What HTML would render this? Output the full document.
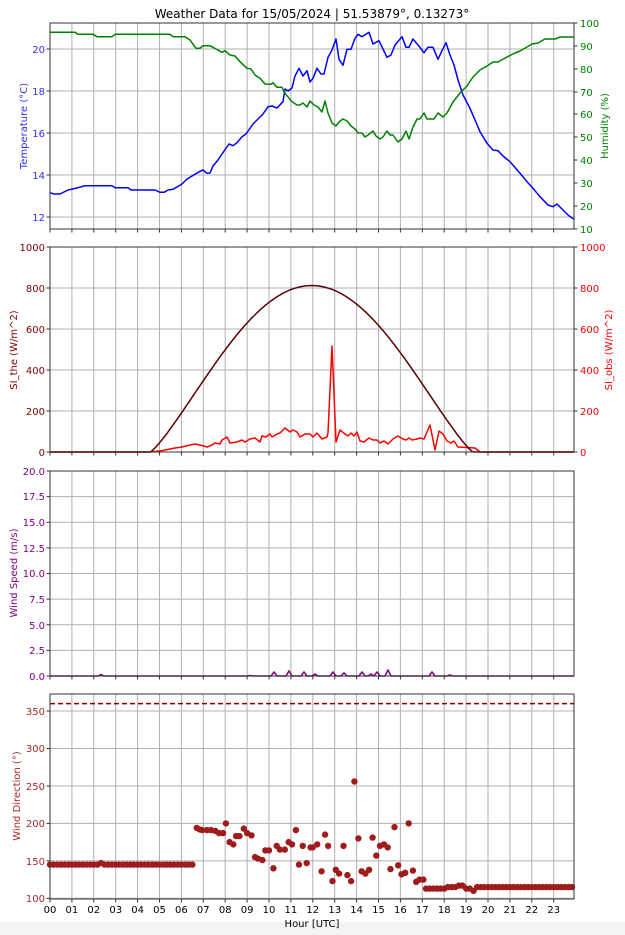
<!DOCTYPE html>
<html><head><meta charset="utf-8"><style>
html,body{margin:0;padding:0;background:#fff;}
svg{display:block;font-family:"DejaVu Sans","Liberation Sans",sans-serif;}
</style></head><body>
<svg id="s" width="625" height="935" viewBox="0 0 625 935" xmlns="http://www.w3.org/2000/svg">
<rect x="0" y="0" width="625" height="935" fill="#fff"/>
<rect x="0" y="922" width="625" height="13" fill="#f4f4f4"/>
<g id="grid"></g>
<g id="data"></g>
<g id="frames" fill="none" stroke="#333" stroke-width="1">
<rect x="50" y="23" width="524" height="206"/>
<rect x="50" y="247" width="524" height="205"/>
<rect x="50" y="471" width="524" height="205"/>
<rect x="50" y="694" width="524" height="205"/>
</g>
<g id="ticks" stroke="#333" stroke-width="1"></g>
<text x="312" y="18" font-size="12" text-anchor="middle" fill="#000">Weather Data for 15/05/2024 | 51.53879°, 0.13273°</text>

<g font-size="10" text-anchor="end" fill="#3030ff">
<text x="45" y="221">12</text><text x="45" y="179">14</text><text x="45" y="137">16</text><text x="45" y="95">18</text><text x="45" y="53">20</text>
</g>
<g font-size="10" text-anchor="start" fill="#008000">
<text x="580" y="233">10</text><text x="580" y="210">20</text><text x="580" y="187">30</text><text x="580" y="164">40</text><text x="580" y="141">50</text><text x="580" y="118">60</text><text x="580" y="96">70</text><text x="580" y="73">80</text><text x="580" y="50">90</text><text x="580" y="27">100</text>
</g>
<text transform="translate(27,126) rotate(-90)" font-size="10" text-anchor="middle" fill="#3030ff">Temperature (°C)</text>
<text transform="translate(608,126) rotate(-90)" font-size="10" text-anchor="middle" fill="#008000">Humidity (%)</text>

<g font-size="10" text-anchor="end" fill="#800000">
<text x="45" y="456">0</text><text x="45" y="415">200</text><text x="45" y="374">400</text><text x="45" y="333">600</text><text x="45" y="292">800</text><text x="45" y="251">1000</text>
</g>
<g font-size="10" text-anchor="start" fill="#ff0000">
<text x="580" y="456">0</text><text x="580" y="415">200</text><text x="580" y="374">400</text><text x="580" y="333">600</text><text x="580" y="292">800</text><text x="580" y="251">1000</text>
</g>
<text transform="translate(17,350) rotate(-90)" font-size="10" text-anchor="middle" fill="#800000">SI_the (W/m^2)</text>
<text transform="translate(612,350) rotate(-90)" font-size="10" text-anchor="middle" fill="#ff0000">SI_obs (W/m^2)</text>

<g font-size="10" text-anchor="end" fill="#800080">
<text x="45" y="680">0.0</text><text x="45" y="654">2.5</text><text x="45" y="629">5.0</text><text x="45" y="603">7.5</text><text x="45" y="577">10.0</text><text x="45" y="552">12.5</text><text x="45" y="526">15.0</text><text x="45" y="500">17.5</text><text x="45" y="475">20.0</text>
</g>
<text transform="translate(17,573) rotate(-90)" font-size="10" text-anchor="middle" fill="#800080">Wind Speed (m/s)</text>

<g font-size="10" text-anchor="end" fill="#a52a2a">
<text x="45" y="902">100</text><text x="45" y="865">150</text><text x="45" y="827">200</text><text x="45" y="790">250</text><text x="45" y="752">300</text><text x="45" y="715">350</text>
</g>
<text transform="translate(20,796) rotate(-90)" font-size="10" text-anchor="middle" fill="#a52a2a">Wind Direction (°)</text>

<g font-size="10" text-anchor="middle" fill="#000">
<text x="50" y="913">00</text><text x="71.9" y="913">01</text><text x="93.8" y="913">02</text><text x="115.7" y="913">03</text><text x="137.6" y="913">04</text><text x="159.5" y="913">05</text><text x="181.4" y="913">06</text><text x="203.3" y="913">07</text><text x="225.2" y="913">08</text><text x="247.1" y="913">09</text><text x="269" y="913">10</text><text x="290.9" y="913">11</text><text x="312.8" y="913">12</text><text x="334.7" y="913">13</text><text x="356.6" y="913">14</text><text x="378.5" y="913">15</text><text x="400.4" y="913">16</text><text x="422.3" y="913">17</text><text x="444.2" y="913">18</text><text x="466.1" y="913">19</text><text x="488" y="913">20</text><text x="509.9" y="913">21</text><text x="531.8" y="913">22</text><text x="553.7" y="913">23</text>
</g>
<text x="312" y="927" font-size="10" text-anchor="middle" fill="#000">Hour [UTC]</text>
</svg>
<script>
(function(){
var NS="http://www.w3.org/2000/svg";
function el(p,n,a){var e=document.createElementNS(NS,n);for(var k in a)e.setAttribute(k,a[k]);p.appendChild(e);return e;}
var grid=document.getElementById('grid'),data=document.getElementById('data'),ticks=document.getElementById('ticks');
var X=function(h){return 50+21.9*h;};
var panels=[[23,229],[247,452],[471,676],[694,899]];
var gc="#b0b0b0";
panels.forEach(function(p){
  for(var h=0;h<24;h++){var x=X(h);el(grid,'line',{x1:x,x2:x,y1:p[0],y2:p[1],stroke:gc,'stroke-width':1});
    el(ticks,'line',{x1:x,x2:x,y1:p[1],y2:p[1]+3.5});}
});
function hl(ys,left,right){ys.forEach(function(y){el(grid,'line',{x1:50,x2:574,y1:y,y2:y,stroke:gc,'stroke-width':1});
 if(left)el(ticks,'line',{x1:46.5,x2:50,y1:y,y2:y});});}
hl([217,175,133,91,49],true);
[229,206,183,160,137,114,92,69,46,23].forEach(function(y){el(ticks,'line',{x1:574,x2:577.5,y1:y,y2:y});});
hl([452,411,370,329,288,247],true);
[452,411,370,329,288,247].forEach(function(y){el(ticks,'line',{x1:574,x2:577.5,y1:y,y2:y});});
var ws=[];for(var i=0;i<=8;i++)ws.push(676-i*25.625);hl(ws,true);
var wd=[];for(var d=100;d<=350;d+=50)wd.push(898.3-(d-100)*0.749);hl(wd,true);
function path(pts,col,w,extra){var s=pts.map(function(p,i){return (i?'L':'M')+p[0].toFixed(1)+' '+p[1].toFixed(1);}).join('');
 var a={d:s,fill:'none',stroke:col,'stroke-width':w,'stroke-linejoin':'round'};for(var k in extra)a[k]=extra[k];return el(data,'path',a);}
// temperature
var T=[[50,192.7],[54,194],[60,194],[68,190],[77,188],[85,185.7],[112,185.7],[115,187.7],[128,187.7],[131,190],[155,190],[160,192.3],[164,192.3],[168,190],[173,189.3],[182,184],[187,179],[200,171.3],[203,170],[207,173.3],[210,173],[213,166],[218,160],[222,154],[229,144],[233,145.7],[237,142.7],[242,136.7],[246,134],[253,124],[263,114],[268,106.7],[272,106],[277,108],[283,101.7],[285,89],[288,91],[292,88],[295,76],[299,68.3],[303,76],[307,70.7],[310,82],[313,78.3],[317,68.3],[321,74],[324,74],[328,57.3],[332,50],[336,39],[339,59.3],[343,65.3],[347,49.3],[351,49.3],[355,38.3],[358,34.3],[362,36.7],[369,32.3],[373,44],[379,40.7],[387,57.3],[391,55],[395,45],[402,36.7],[406,47.3],[409,47.3],[413,39],[418,45],[424,52.7],[428,47.3],[433,47.3],[438,59.3],[442,50.7],[446,42.7],[450,55],[454,65],[458,80],[463,95],[470,108.3],[475,120],[480,131.7],[487,143.3],[493,150],[498,150.7],[503,156],[510,161.7],[520,173.3],[527,181.7],[533,188.3],[540,196.7],[548,205],[553,206.7],[557,204],[563,210],[568,215],[574,219.3]];
var H=[[50,32.3],[75,32.3],[78,34.3],[93,34.3],[97,36.7],[112,36.7],[115,34.3],[170,34.3],[173,36.7],[185,36.7],[190,40],[196,48.3],[200,48.3],[203,45.7],[210,45.7],[216,49],[222,52.3],[225,50.7],[230,55],[235,56],[240,61.7],[247,68.3],[251,69],[255,75],[260,78.3],[265,84],[271,84.3],[273,82.7],[277,87.3],[282,87.3],[285,93.3],[292,101.7],[297,105],[300,105],[303,103],[307,107],[310,101],[314,105],[318,107],[322,112],[325,101],[328,113],[332,123],[336,126],[339,122],[343,119],[347,121],[351,126],[355,129],[358,133],[362,133],[365,137],[368,135],[373,131],[376,136],[380,139],[383,137],[387,131],[390,135],[393,135],[398,142],[402,139],[406,131],[409,139],[413,127],[417,119],[420,119],[424,113],[427,119],[434,119],[438,113],[443,117],[447,113],[453,102],[460,93],[467,86],[473,77],[480,70],[487,66],[493,62],[498,62],[507,57],[515,53],[520,51],[527,47],[532,44],[538,43],[545,39],[555,39],[560,37],[574,37]];
path(T,'#0000ff',1.5);path(H,'#008000',1.5);
// SI_the
var st=[];for(var h=0;h<=23.93;h+=0.05){var c=Math.cos(Math.PI*(h-11.95)/14.74);var v=(Math.abs(h-11.95)<7.37)?812*Math.pow(Math.max(c,0),1.2):0;st.push([X(h),452-v*0.205]);}
var so=[[50,452],[150,452],[160,451],[175,448],[182,447],[190,445],[195,444],[200,445],[207,447],[212,445],[215,443],[220,444],[222,440],[227,437],[230,443],[237,442],[242,440],[245,442],[250,439],[255,438],[260,442],[262,436],[266,437],[270,434],[272,437],[277,434],[280,433],[285,428],[290,432],[293,430],[297,432],[300,437],[305,434],[310,434],[313,437],[317,433],[322,439],[327,437],[328,433],[332,346],[336,442],[340,430],[345,434],[348,436],[351,433],[354,436],[357,432],[360,441],[364,442],[369,438],[373,440],[377,440],[380,443],[384,441],[388,444],[393,439],[398,436],[403,439],[406,440],[409,438],[412,440],[417,439],[420,438],[424,439],[430,425],[435,450],[439,431],[443,434],[447,441],[451,443],[454,441],[458,447],[475,448],[480,452],[574,452]];
path(so,'#ff0000',1.5);path(st,'#5a0000',1.5);
// wind speed
var bumps=[[101,0.15],[250,0.05],[274,0.4],[289,0.5],[304,0.4],[315,0.2],[333,0.4],[344,0.3],[362,0.4],[371,0.2],[377,0.4],[388,0.6],[432,0.4],[450,0.1]];
var wp=[[50,676]];bumps.forEach(function(b){wp.push([b[0]-3,676],[b[0],676-b[1]*10.25],[b[0]+3,676]);});wp.push([574,676]);
path(wp,'#800080',1.5);
// wind direction
path([[50,703.6],[574,703.6]],'#8b0000',1.5,{'stroke-dasharray':'5,3'});
var D=[];
for(var h=0;h<=6.55;h+=1/6)D.push([h,(Math.abs(h-2.33)<0.05)?147:145]);
var mid=[[6.7,194],[6.83,192],[6.95,191],[7.17,191],[7.35,191],[7.55,190],[7.72,187],[7.9,187],[8.03,200],[8.2,175],[8.37,172],[8.5,183],[8.65,183],[8.85,193],[9.0,187],[9.2,184],[9.36,155],[9.5,153],[9.7,151],[9.83,164],[10.0,164],[10.2,140],[10.35,170],[10.5,165],[10.72,165],[10.9,175],[11.05,172],[11.23,191],[11.37,145],[11.54,170],[11.72,147],[11.9,168],[12.0,168],[12.2,172],[12.4,136],[12.56,185],[12.7,170],[12.9,123],[13.05,138],[13.2,133],[13.4,170],[13.58,131],[13.75,123],[13.9,256],[14.08,180],[14.23,136],[14.4,133],[14.57,138],[14.73,181],[14.9,157],[15.07,170],[15.25,172],[15.42,168],[15.55,139],[15.73,195],[15.9,144],[16.05,132],[16.22,134],[16.38,200],[16.57,137],[16.72,122],[16.87,125],[17.05,125]];
D=D.concat(mid);
for(var h=17.17;h<=23.9;h+=1/6){var d=113;if(h>18.15&&h<18.55)d=115;else if(h>=18.55&&h<18.9)d=117;else if(h>=18.9&&h<19.25)d=113;else if(h>=19.25&&h<19.45)d=110;else if(h>=19.45)d=115;D.push([h,d]);}
D.forEach(function(p){el(data,'circle',{cx:X(p[0]).toFixed(1),cy:(898.3-(p[1]-100)*0.749).toFixed(1),r:3.2,fill:'#a01c1c'});});
})();
</script>
</body></html>
